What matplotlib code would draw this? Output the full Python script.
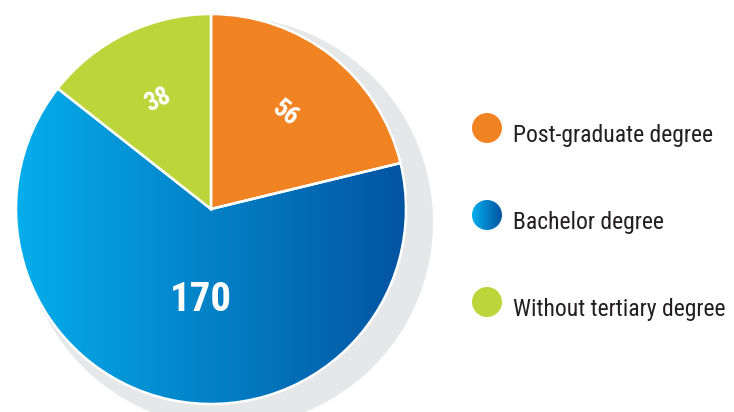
import matplotlib
matplotlib.use("Agg")
import matplotlib.pyplot as plt
import numpy as np
from matplotlib.colors import LinearSegmentedColormap
from matplotlib.patches import Circle

# data
categories = ["Post-graduate degree", "Bachelor degree", "Without tertiary degree"]
values = [56, 170, 38]
colors = ["#F28323", "#0A8FD8", "#BBD53A"]

BLUE_LIGHT = "#05AEEC"
BLUE_DARK = "#0254A2"
SHADOW = "#E6E7E8"

plt.rcParams["font.family"] = ["Roboto Condensed", "Liberation Sans Narrow", "Roboto", "DejaVu Sans"]

W, H = 734, 412
fig = plt.figure(figsize=(W / 100, H / 100), dpi=100)
ax = fig.add_axes([0, 0, 1, 1])
ax.set_aspect("equal")

cx, cy, r = 211, 203, 195

# grey shadow disc behind the pie
ax.add_patch(Circle((228, 190), 205, facecolor=SHADOW, edgecolor="none", zorder=0))

wedges, _ = ax.pie(
    values,
    colors=colors,
    startangle=90,
    counterclock=False,
    center=(cx, cy),
    radius=r,
    frame=True,
    wedgeprops=dict(edgecolor="white", linewidth=1.8, zorder=2),
)
ax.set_xlim(0, W)
ax.set_ylim(0, H)
ax.axis("off")

# horizontal gradient for the bachelor slice
blue_cmap = LinearSegmentedColormap.from_list("blue", [BLUE_LIGHT, BLUE_DARK])
grad = np.linspace(0, 1, 256).reshape(1, -1)
blue = wedges[1]
blue.set_facecolor("none")
img = ax.imshow(grad, cmap=blue_cmap, extent=(cx - r, cx + r, cy - r, cy + r),
                aspect="auto", zorder=1.5)
img.set_clip_path(blue)

renderer = fig.canvas.get_renderer()


def fit_width(txt, target, max_size):
    # shrink a text until it is no wider than the reference
    txt.set_fontsize(max_size)
    w = txt.get_window_extent(renderer).width
    if w > target:
        txt.set_fontsize(max_size * target / w)


# value labels
for w, v in zip(wedges, values):
    mid = (w.theta1 + w.theta2) / 2
    if v == 170:
        t = ax.text(cx - 10, cy - 91, str(v), color="white", fontweight="bold",
                    ha="center", va="center", zorder=3)
        fit_width(t, 62, 31)
    else:
        d = 0.62 * r
        x = cx + d * np.cos(np.radians(mid))
        y = cy + d * np.sin(np.radians(mid))
        t = ax.text(x, y, str(v), color="white", fontweight="bold",
                    ha="center", va="center", zorder=3)
        fit_width(t, 26, 19)
        t.set_rotation(mid - 90)

# legend
leg_y = [284, 197, 110]
for i, (name, col, y) in enumerate(zip(categories, colors, leg_y)):
    if i == 1:
        c = Circle((487, y), 15, facecolor="none", edgecolor="none", zorder=2)
        ax.add_patch(c)
        im = ax.imshow(grad, cmap=blue_cmap, extent=(472, 502, y - 15, y + 15),
                       aspect="auto", zorder=2)
        im.set_clip_path(c)
    else:
        ax.add_patch(Circle((487, y), 15, facecolor=col, edgecolor="none", zorder=2))

texts = [ax.text(513, y - 14, name, color="#231F20", ha="left", va="baseline")
         for name, y in zip(categories, leg_y)]
fit_width(texts[2], 216, 17)
for t in texts:
    t.set_fontsize(texts[2].get_fontsize())

ax.set_xlim(0, W)
ax.set_ylim(0, H)
fig.savefig("out.png", dpi=100)
